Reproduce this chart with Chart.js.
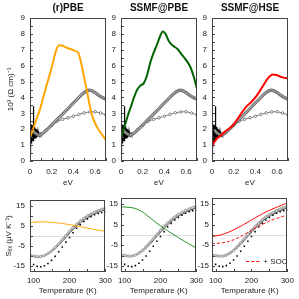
<!DOCTYPE html>
<html lang="en">
<head>
<meta charset="UTF-8">
<script src="https://cdn.jsdelivr.net/npm/chart.js"></script>
<title>conductivity / seebeck</title>
<style>
  body { margin: 0; background: #fff; }
  canvas { position: absolute; }
</style>
</head>
<body>
<canvas id="top1" width="116" height="192" style="left:0px;top:0px"></canvas>
<canvas id="top2" width="103" height="192" style="left:104px;top:0px"></canvas>
<canvas id="top3" width="103" height="192" style="left:195px;top:0px"></canvas>
<canvas id="bot1" width="116" height="109" style="left:0px;top:190px"></canvas>
<canvas id="bot2" width="103" height="109" style="left:104px;top:190px"></canvas>
<canvas id="bot3" width="103" height="109" style="left:195px;top:190px"></canvas>
<script>
// ---- optical conductivity (top row), x in eV ----
var expEv = [0.03,0.04,0.05,0.06,0.07,0.08,0.09,0.10,0.11,0.12,0.13,0.14,0.15,0.16,0.17,0.18,0.19,0.20,0.21,0.22,0.23,0.24,0.25,0.26,0.27,0.28,0.29,0.30,0.31,0.32,0.33,0.34,0.35,0.36,0.37,0.38,0.39,0.40,0.41,0.42,0.43,0.44,0.45,0.46,0.47,0.48,0.49,0.50,0.51,0.52,0.53,0.54,0.55,0.56,0.57,0.58,0.59,0.60,0.61,0.62,0.63,0.64,0.65,0.66,0.67,0.68,0.69,0.70]
var expSigma = [1.9,1.8,1.74,1.7,1.66,1.64,1.64,1.66,1.7,1.75,1.81,1.87,1.93,2.0,2.06,2.13,2.2,2.27,2.34,2.41,2.48,2.55,2.62,2.68,2.75,2.81,2.88,2.95,3.02,3.09,3.16,3.23,3.3,3.37,3.44,3.51,3.58,3.65,3.72,3.79,3.86,3.93,4.0,4.07,4.14,4.2,4.26,4.31,4.36,4.4,4.43,4.45,4.45,4.44,4.42,4.38,4.34,4.3,4.25,4.2,4.15,4.1,4.06,4.02,3.98,3.95,3.92,3.9]
var exp2Ev = [0.10,0.15,0.20,0.25,0.30,0.35,0.40,0.45,0.50,0.55,0.60,0.65,0.70]
var exp2Sigma = [1.7,1.95,2.25,2.5,2.62,2.72,2.82,2.93,3.03,3.09,3.1,3.02,2.9]
var farIrEv = [0,0.002,0.004,0.006,0.008,0.010,0.012,0.014,0.016,0.018,0.020,0.022,0.024,0.026,0.028,0.030,0.032,0.034,0.036,0.038,0.040,0.042,0.044,0.046,0.048,0.050,0.052,0.054,0.056,0.058,0.060,0.062,0.064,0.066,0.068,0.070,0.072,0.074,0.076,0.078,0.080,0.082,0.084,0.086,0.088,0.090,0.092,0.094,0.096,0.098,0.100]
var farIrSigma = [0.5,2.2,0.8,2.3,1.0,2.2,1.1,2.3,1.2,2.2,1.3,2.25,1.3,2.2,1.35,3.45,1.3,2.2,1.35,2.15,1.4,2.1,1.4,2.1,1.45,2.05,1.45,2.0,1.5,2.0,1.5,1.95,1.52,1.92,1.55,1.9,1.55,1.85,1.58,1.82,1.6,1.8,1.6,1.78,1.62,1.75,1.63,1.72,1.64,1.7,1.66]

var pbeEv = [0,0.03,0.06,0.09,0.12,0.15,0.18,0.21,0.24,0.27,0.30,0.33,0.37,0.41,0.445,0.47,0.50,0.525,0.55,0.58,0.62,0.66,0.70]
var pbeSigma = [1.45,2.05,2.65,3.2,3.95,4.7,5.4,6.15,6.95,7.28,7.25,7.15,7.05,6.95,6.8,6.2,5.2,4.4,3.5,2.7,2.1,1.7,1.3]
var ssmfPbeEv = [0,0.03,0.06,0.09,0.12,0.15,0.18,0.21,0.24,0.27,0.30,0.33,0.36,0.385,0.41,0.44,0.48,0.52,0.56,0.60,0.64,0.67,0.70]
var ssmfPbeSigma = [1.43,2.1,2.8,3.4,4.0,4.5,4.75,4.9,5.4,6.2,6.8,7.3,7.85,8.15,8.0,7.55,7.25,7.05,6.7,6.35,5.9,5.3,4.55]
var ssmfHseEv = [0,0.02,0.05,0.08,0.12,0.16,0.2,0.24,0.28,0.32,0.36,0.4,0.44,0.48,0.52,0.56,0.6,0.64,0.7]
var ssmfHseSigma = [0.85,1.2,1.45,1.6,1.85,2.05,2.3,2.7,3.1,3.45,3.7,4.0,4.4,4.85,5.25,5.45,5.4,5.28,5.2]

// ---- seebeck (bottom row), x in K ----
var tempK = [90,100,110,120,130,140,150,160,170,180,190,200,210,220,230,240,250,260,270,280,290,300]
var expS1 = [-9.6,-10.0,-10.3,-10.3,-9.8,-8.8,-7.5,-5.8,-3.9,-1.9,0.2,2.2,4.1,5.8,7.3,8.7,9.9,10.9,11.8,12.6,13.3,13.9]
var expS2 = [-10.0,-10.3,-10.5,-10.4,-9.9,-9.0,-7.8,-6.3,-4.5,-2.6,-0.6,1.4,3.3,5.0,6.5,7.9,9.1,10.1,11.0,11.8,12.5,13.1]
var expS3 = [-12.8,-14.3,-15.2,-15.4,-14.9,-13.8,-12.2,-10.2,-7.9,-5.5,-3.1,-0.8,1.6,3.8,5.6,7.2,8.5,9.6,10.5,11.2,11.7,12.1]
var pbeS = [6.6,6.8,6.9,7.0,7.0,6.9,6.8,6.6,6.4,6.15,5.9,5.6,5.3,4.95,4.6,4.25,3.9,3.55,3.2,2.9,2.6,2.3]
var ssmfPbeS = [13.6,13.5,13.4,13.2,12.8,12.1,11.1,9.8,8.4,7.0,5.7,4.4,3.2,2.0,0.9,-0.2,-1.3,-2.4,-3.4,-4.4,-5.4,-6.3]
var ssmfHseS = [-0.7,-0.5,-0.2,0.3,0.9,1.6,2.4,3.3,4.2,5.2,6.2,7.2,8.2,9.2,10.2,11.1,11.9,12.7,13.4,14.1,14.8,15.5]
var ssmfHseSocS = [-4.2,-4.15,-4.0,-3.8,-3.5,-3.0,-2.4,-1.6,-0.8,0.2,1.2,2.2,3.2,4.2,5.1,5.9,6.7,7.4,8.0,8.6,9.1,9.6]

// tick labels
var evTicks = [0, 0.2, 0.4, 0.6]
var sigmaTicks = [0, 1, 2, 3, 4, 5, 6, 7, 8, 9]
var tempTicks = [100, 200, 300]
var seebeckTicks = [-15, -10, -5, 0, 5, 10, 15]

var panelTitles = ['(r)PBE', 'SSMF@PBE', 'SSMF@HSE']
var FONT = '"Liberation Sans", Arial, sans-serif'

function pts(xs, ys) {
    return xs.map(function (x, i) { return { x: x, y: ys[i] } })
}
function fixTicks(vals) {
    return function (s) { s.ticks = vals.map(function (v) { return { value: v } }) }
}

// frame, inward ticks, panel title, zero line, little legend
var panelDeco = {
    id: 'panelDeco',
    beforeDatasetsDraw(chart, args, o) {
        if (!o.zeroLine) return
        var a = chart.chartArea, c = chart.ctx
        var y0 = Math.round(chart.scales.y.getPixelForValue(0)) + 0.5
        c.save()
        c.strokeStyle = '#dcdcdc'
        c.lineWidth = 1
        c.beginPath(); c.moveTo(a.left, y0); c.lineTo(a.right, y0); c.stroke()
        c.restore()
    },
    afterDatasetsDraw(chart, args, o) {
        var a = chart.chartArea, c = chart.ctx
        var sx = chart.scales.x, sy = chart.scales.y
        c.save()
        c.strokeStyle = '#444'
        c.lineWidth = 1
        c.beginPath()
        var v
        for (v = Math.ceil(sx.min / o.xStep - 1e-6) * o.xStep; v <= sx.max + 1e-6; v += o.xStep) {
            var px = Math.round(sx.getPixelForValue(v)) + 0.5
            c.moveTo(px, a.bottom); c.lineTo(px, a.bottom - 3)
        }
        for (v = Math.ceil(sy.min / o.yStep - 1e-6) * o.yStep; v <= sy.max + 1e-6; v += o.yStep) {
            var py = Math.round(sy.getPixelForValue(v)) + 0.5
            c.moveTo(a.left, py); c.lineTo(a.left + 3, py)
        }
        c.stroke()
        c.strokeRect(Math.round(a.left) + 0.5, Math.round(a.top) + 0.5, Math.round(a.width) - 1, Math.round(a.height) - 1)
        if (o.title) {
            c.fillStyle = '#111'
            c.font = 'bold 10px ' + FONT
            c.textAlign = 'center'
            c.textBaseline = 'middle'
            c.fillText(o.title, (a.left + a.right) / 2, 8)
        }
        if (o.soc) {
            var ly = a.bottom - 10.5
            c.strokeStyle = 'red'
            c.setLineDash([3, 2])
            c.beginPath(); c.moveTo(a.right - 41, ly); c.lineTo(a.right - 26, ly); c.stroke()
            c.setLineDash([])
            c.fillStyle = '#222'
            c.font = '8px ' + FONT
            c.textAlign = 'left'
            c.textBaseline = 'middle'
            c.fillText('+ SOC', a.right - 24, ly)
        }
        c.restore()
    }
}

function topChart(id, idx, ev, sigma, color, yw) {
    return new Chart(document.getElementById(id), {
        type: 'line',
        data: {
            datasets: [
                { data: pts(ev, sigma), borderColor: color, borderWidth: 2, pointRadius: 0, tension: 0.4, cubicInterpolationMode: 'monotone', order: 0 },
                { data: pts(expEv, expSigma), borderColor: '#555', borderWidth: 0.8, pointRadius: 1.3, pointBorderWidth: 0.6,
                  pointBorderColor: '#444', pointBackgroundColor: '#d0d0d0', tension: 0, order: 1 },
                { data: pts(exp2Ev, exp2Sigma), borderColor: '#666', borderWidth: 0.8, pointRadius: 1.3, pointBorderWidth: 0.7,
                  pointBorderColor: '#555', pointBackgroundColor: '#fff', tension: 0, order: 2 },
                { data: pts(farIrEv, farIrSigma), borderColor: '#000', borderWidth: 1.2, pointRadius: 0, tension: 0, order: 3 }
            ]
        },
        options: {
            responsive: false, animation: false, devicePixelRatio: 1, events: [],
            layout: { padding: { top: 18, right: 10, left: 0, bottom: 0 } },
            plugins: {
                legend: { display: false }, tooltip: { enabled: false },
                panelDeco: { title: panelTitles[idx], xStep: 0.1, yStep: 0.5 }
            },
            scales: {
                x: {
                    type: 'linear', min: 0, max: 0.7,
                    grid: { display: false, drawTicks: false }, border: { display: false },
                    ticks: { padding: 6, color: '#222', font: { family: FONT, size: 8 }, maxRotation: 0 },
                    title: { display: true, text: 'eV', color: '#222', font: { family: FONT, size: 8 }, padding: { top: 0, bottom: 4 } },
                    afterBuildTicks: fixTicks(evTicks),
                    afterFit: function (s) { s.height = 31 }
                },
                y: {
                    min: 0, max: 9,
                    grid: { display: false, drawTicks: false }, border: { display: false },
                    ticks: { padding: 5, color: '#222', font: { family: FONT, size: 8 } },
                    title: { display: idx === 0, text: '10³ (Ω cm)⁻¹', color: '#222', font: { family: FONT, size: 8 }, padding: { top: 6, bottom: 0 } },
                    afterBuildTicks: fixTicks(sigmaTicks),
                    afterFit: function (s) { s.width = yw }
                }
            }
        },
        plugins: [panelDeco]
    })
}

function botChart(id, idx, theoryS, color, yw) {
    var sets = [
        { data: pts(tempK, theoryS), borderColor: color, borderWidth: 1, pointRadius: 0, tension: 0.4, order: 0 },
        { data: pts(tempK, expS1), borderColor: '#aaa', borderWidth: 2.2, pointRadius: 1.2, pointBorderWidth: 0.6,
          pointBorderColor: '#888', pointBackgroundColor: '#ddd', tension: 0.4, order: 2 },
        { data: pts(tempK, expS2), borderColor: '#444', borderWidth: 1.1, pointRadius: 0, tension: 0.4, order: 3 },
        { data: pts(tempK, expS3), showLine: false, pointStyle: 'rect', pointRadius: 1.1, pointBorderWidth: 0,
          pointBackgroundColor: '#000', borderColor: '#000', order: 4 }
    ]
    if (idx === 2) {
        sets.push({ data: pts(tempK, ssmfHseSocS), borderColor: 'red', borderWidth: 1, borderDash: [3, 2], pointRadius: 0, tension: 0.4, order: 1 })
    }
    return new Chart(document.getElementById(id), {
        type: 'line',
        data: { datasets: sets },
        options: {
            responsive: false, animation: false, devicePixelRatio: 1, events: [],
            layout: { padding: { top: 6, right: 10, left: 0, bottom: 0 } },
            plugins: {
                legend: { display: false }, tooltip: { enabled: false },
                panelDeco: { zeroLine: true, soc: idx === 2, xStep: 50, yStep: 5 }
            },
            scales: {
                x: {
                    type: 'linear', min: 90, max: 300,
                    grid: { display: false, drawTicks: false }, border: { display: false },
                    ticks: { padding: 4, color: '#222', font: { family: FONT, size: 8 }, maxRotation: 0 },
                    title: { display: true, text: 'Temperature (K)', color: '#222', font: { family: FONT, size: 8 }, padding: { top: 0, bottom: 3 } },
                    afterBuildTicks: fixTicks(tempTicks),
                    afterFit: function (s) { s.height = 27 }
                },
                y: {
                    min: -18, max: 18,
                    grid: { display: false, drawTicks: false }, border: { display: false },
                    ticks: { padding: idx === 0 ? 5 : 3, color: '#222', font: { family: FONT, size: 8 } },
                    title: { display: idx === 0, text: 'Sₓₓ (μV K⁻¹)', color: '#222', font: { family: FONT, size: 8 }, padding: { top: 4, bottom: 0 } },
                    afterBuildTicks: fixTicks(seebeckTicks),
                    afterFit: function (s) { s.width = yw }
                }
            }
        },
        plugins: [panelDeco]
    })
}

topChart('top1', 0, pbeEv, pbeSigma, '#ffa500', 30)
topChart('top2', 1, ssmfPbeEv, ssmfPbeSigma, '#006400', 17)
topChart('top3', 2, ssmfHseEv, ssmfHseSigma, '#ff0000', 17)
botChart('bot1', 0, pbeS, '#ffa500', 30)
botChart('bot2', 1, ssmfPbeS, '#228b22', 17)
botChart('bot3', 2, ssmfHseS, '#ff0000', 17)
</script>
</body>
</html>
